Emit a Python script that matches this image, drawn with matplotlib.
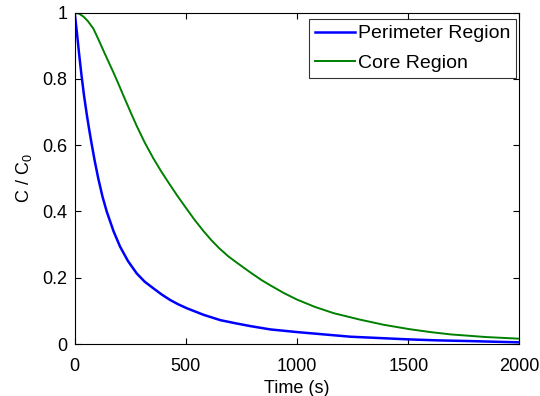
import matplotlib
matplotlib.use('Agg')
import matplotlib.pyplot as plt

# Concentration decay (C / C0 vs time in s)
t_perimeter = [0, 10, 20, 30, 42, 55, 67, 76, 90, 106, 125, 144, 175, 204, 240,
               279, 315, 354, 390, 429, 465, 504, 580, 655, 720, 790, 880, 1000,
               1120, 1240, 1370, 1500, 1630, 1766, 1880, 2000]
c_perimeter = [1.0, 0.94, 0.875, 0.815, 0.75, 0.69, 0.64, 0.605, 0.553, 0.50,
               0.445, 0.40, 0.34, 0.294, 0.25, 0.213, 0.188, 0.168, 0.15, 0.133,
               0.12, 0.108, 0.088, 0.072, 0.063, 0.054, 0.044, 0.036, 0.029,
               0.022, 0.018, 0.014, 0.011, 0.009, 0.007, 0.005]

t_core = [0, 20, 40, 60, 84, 105, 129, 150, 174, 195, 219, 250, 279, 315, 354,
          390, 429, 460, 497, 540, 579, 615, 650, 690, 730, 790, 840, 880, 940,
          1000, 1080, 1165, 1280, 1390, 1503, 1600, 1690, 1850, 2000]
c_core = [1.0, 0.997, 0.988, 0.974, 0.952, 0.922, 0.886, 0.855, 0.82, 0.788,
          0.75, 0.702, 0.658, 0.608, 0.56, 0.52, 0.48, 0.449, 0.414, 0.374,
          0.341, 0.313, 0.289, 0.265, 0.245, 0.216, 0.193, 0.177, 0.154, 0.134,
          0.112, 0.093, 0.074, 0.058, 0.045, 0.036, 0.029, 0.021, 0.016]

x_ticks = [0, 500, 1000, 1500, 2000]
y_ticks = [0, 0.2, 0.4, 0.6, 0.8, 1]
y_tick_labels = ['0', '0.2', '0.4', '0.6', '0.8', '1']

plt.rcParams['font.family'] = ['Liberation Sans', 'DejaVu Sans']
plt.rcParams['mathtext.default'] = 'regular'

fig = plt.figure(figsize=(5.4, 3.96), dpi=100)
ax = fig.add_axes([0.1383, 0.1313, 0.8237, 0.8366])

ax.plot(t_perimeter, c_perimeter, color='#0000ff', lw=1.8, label='Perimeter Region')
ax.plot(t_core, c_core, color='#008000', lw=1.4, label='Core Region')

ax.set_xlim(0, 2000)
ax.set_ylim(0, 1)
ax.set_xticks(x_ticks)
ax.set_yticks(y_ticks)
ax.set_yticklabels(y_tick_labels)
ax.tick_params(direction='in', top=True, right=True, labelsize=13, length=4,
               width=0.8)
ax.tick_params(axis='x', pad=10)
ax.tick_params(axis='y', pad=5)
for s in ax.spines.values():
    s.set_linewidth(0.8)

ax.set_xlabel('Time (s)', fontsize=13, labelpad=4)
ax.set_ylabel('C / C$_{0}$', fontsize=13, labelpad=6)

leg = ax.legend(loc='upper right', bbox_to_anchor=(0.992, 0.981), fontsize=14,
                fancybox=False, frameon=True, edgecolor='black',
                handlelength=2.06, handletextpad=0.15, borderpad=0.3,
                labelspacing=0.62, borderaxespad=0)
leg.get_frame().set_linewidth(0.8)

fig.savefig('out.png', dpi=100)
